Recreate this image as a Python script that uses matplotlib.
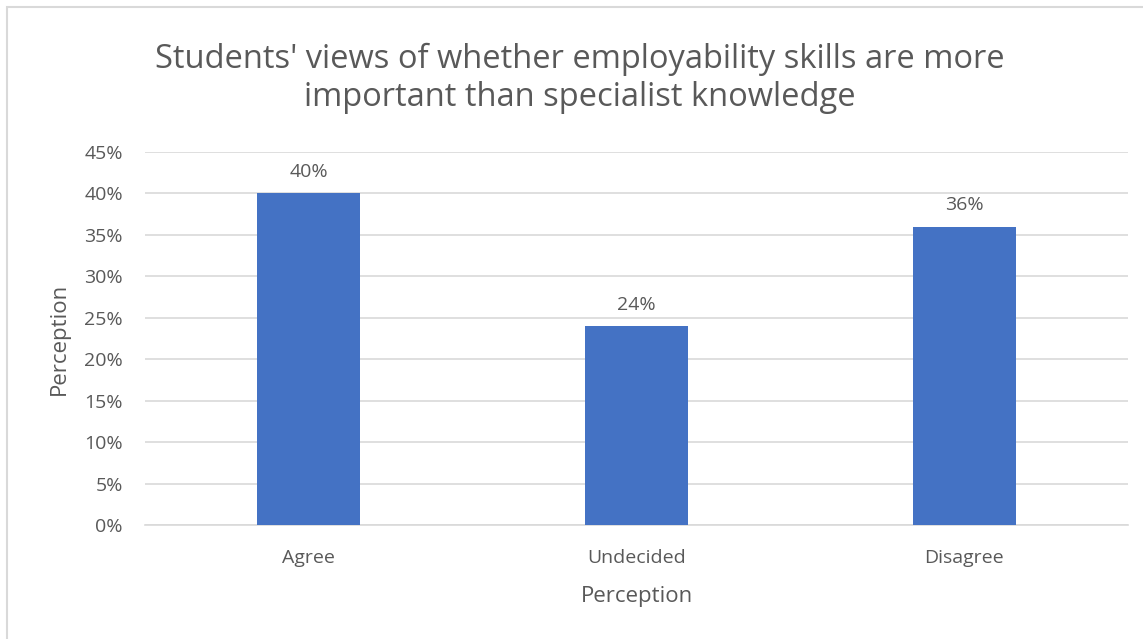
import matplotlib
matplotlib.use("Agg")
import matplotlib.pyplot as plt
from matplotlib.patches import Rectangle
from matplotlib.ticker import PercentFormatter

categories = ["Agree", "Undecided", "Disagree"]
shares = [40, 24, 36]
y_ticks = [0, 5, 10, 15, 20, 25, 30, 35, 40, 45]

TEXT = "#595959"
GRID = "#d9d9d9"
BAR = "#4472c4"

plt.rcParams["font.family"] = ["Open Sans", "DejaVu Sans"]

fig = plt.figure(figsize=(11.43, 6.39), dpi=100)
ax = fig.add_axes([0.1269, 0.1784, 0.86, 0.5837])

# chart frame, only the left and top edges fall inside the canvas
fig.patches.append(Rectangle((7 / 1143, -0.1), 1.2, 1 - 7 / 639 + 0.1,
                             transform=fig.transFigure, fill=False,
                             edgecolor=GRID, linewidth=1.5))

x = range(len(categories))
bars = ax.bar(x, shares, width=0.315, color=BAR, zorder=3)
for rect, v in zip(bars, shares):
    ax.annotate(f"{v}%", (rect.get_x() + rect.get_width() / 2, v),
                xytext=(0, 9), textcoords="offset points",
                ha="center", va="bottom", fontsize=14, color=TEXT)

ax.set_xlim(-0.5, len(categories) - 0.5)
ax.set_ylim(0, 45)
ax.set_yticks(y_ticks)
ax.yaxis.set_major_formatter(PercentFormatter(decimals=0))
ax.set_xticks(list(x))
ax.set_xticklabels(categories)
ax.grid(axis="y", color=GRID, linewidth=1.2, zorder=0)
for side in ["top", "right", "left"]:
    ax.spines[side].set_visible(False)
ax.spines["bottom"].set_color(GRID)
ax.spines["bottom"].set_linewidth(1.2)
ax.tick_params(axis="both", length=0, labelsize=14, labelcolor=TEXT)
ax.tick_params(axis="x", pad=17)
ax.tick_params(axis="y", pad=16)

ax.set_xlabel("Perception", fontsize=16, color=TEXT, labelpad=14)
ax.set_ylabel("Perception", fontsize=16, color=TEXT, labelpad=10)

fig.text(0.507, 0.878, "Students' views of whether employability skills are more\n"
         "important than specialist knowledge", ha="center", va="center",
         fontsize=23.5, color=TEXT, linespacing=1.2)

fig.savefig("out.png", dpi=100)
